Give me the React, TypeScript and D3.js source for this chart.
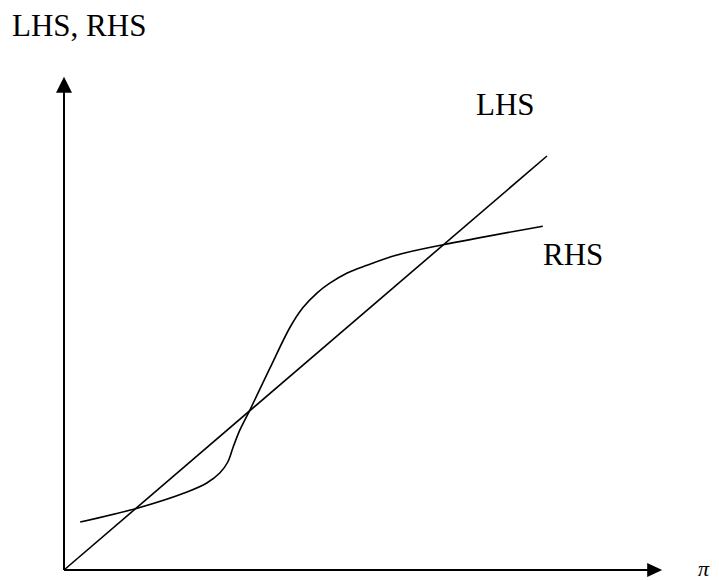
import * as d3 from "d3"

// conceptual units: pi on x, LHS/RHS value on y
const lhsPi = [0, 80.5]
const lhsVal = [0, 69]

const rhsPi = [2.7, 12.2, 20.5, 23.8, 26.0, 27.3, 28.2, 29.3, 31.0, 34.3, 37.7, 39.8, 42.2, 44.3, 47.2, 50.5, 55.5, 63.2, 79.8]
const rhsVal = [8.0, 10.3, 13.0, 14.5, 16.2, 18.0, 20.5, 23.3, 26.7, 33.6, 40.5, 43.7, 46.2, 47.8, 49.5, 50.8, 52.5, 54.2, 57.3]

const axisMax = { x: 99.7, y: 82.2 }

const W = 719
const H = 580

export default function App() {
  const x = d3.scaleLinear().domain([0, 100]).range([64, 664])
  const y = d3.scaleLinear().domain([0, 100]).range([570, -30])

  const line = d3
    .line<[number, number]>()
    .x((d) => x(d[0]))
    .y((d) => y(d[1]))

  const curve = d3
    .line<[number, number]>()
    .x((d) => x(d[0]))
    .y((d) => y(d[1]))
    .curve(d3.curveCatmullRom.alpha(0.5))

  const lhs = lhsPi.map((p, i) => [p, lhsVal[i]] as [number, number])
  const rhs = rhsPi.map((p, i) => [p, rhsVal[i]] as [number, number])

  const ox = x(0)
  const oy = y(0)
  const xTip = x(axisMax.x)
  const yTip = y(axisMax.y)

  return (
    <svg
      width={W}
      height={H}
      style={{ position: "absolute", left: 0, top: 0, background: "#fff" }}
      fontFamily="'Liberation Serif', 'Times New Roman', serif"
    >
      {/* axes */}
      <line x1={ox} y1={oy} x2={xTip - 12} y2={oy} stroke="#000" strokeWidth={2} />
      <line x1={ox} y1={oy} x2={ox} y2={yTip + 12} stroke="#000" strokeWidth={2} />
      <path d={`M${xTip},${oy} L${xTip - 15},${oy - 7} L${xTip - 15},${oy + 7} Z`} fill="#000" />
      <path d={`M${ox},${yTip} L${ox - 8},${yTip + 16} L${ox + 8},${yTip + 16} Z`} fill="#000" />

      {/* curves */}
      <path d={line(lhs) ?? ""} fill="none" stroke="#000" strokeWidth={1.6} />
      <path d={curve(rhs) ?? ""} fill="none" stroke="#000" strokeWidth={1.6} />

      {/* labels */}
      <text x={12} y={36} fontSize={31} fill="#000">LHS, RHS</text>
      <text x={476} y={115} fontSize={31} fill="#000">LHS</text>
      <text x={543} y={265} fontSize={31} fill="#000">RHS</text>
      <text x={698} y={576} fontSize={22} fontStyle="italic" fill="#000">π</text>
    </svg>
  )
}
